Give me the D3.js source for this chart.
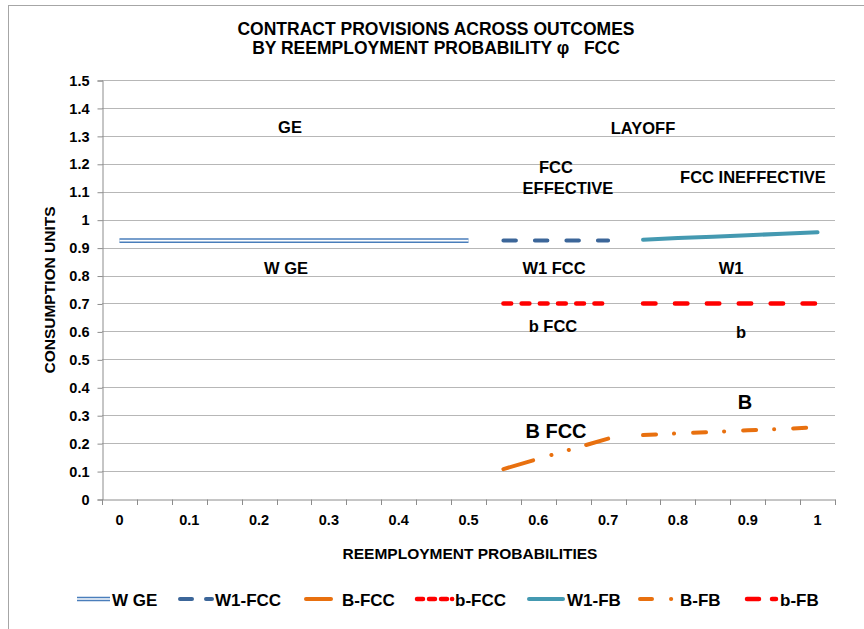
<!DOCTYPE html>
<html>
<head>
<meta charset="utf-8">
<title>Contract provisions across outcomes</title>
<script src="https://cdn.jsdelivr.net/npm/d3@7"></script>
<style>
  body { margin: 0; background: #fff; }
  text { font-family: "Liberation Sans", Arial, sans-serif; font-weight: bold; fill: #000; }
</style>
</head>
<body>
<script>
// categories on the x axis (reemployment probabilities)
var categories = [0, 0.05, 0.1, 0.15, 0.2, 0.25, 0.3, 0.35, 0.4, 0.45, 0.5,
                  0.55, 0.6, 0.65, 0.7, 0.75, 0.8, 0.85, 0.9, 0.95, 1];
var xTickLabels = ["0", "0.1", "0.2", "0.3", "0.4", "0.5", "0.6", "0.7", "0.8", "0.9", "1"];
var yTicks = [0, 0.1, 0.2, 0.3, 0.4, 0.5, 0.6, 0.7, 0.8, 0.9, 1, 1.1, 1.2, 1.3, 1.4, 1.5];

// x positions of each series
var xGE  = [0, 0.05, 0.1, 0.15, 0.2, 0.25, 0.3, 0.35, 0.4, 0.45, 0.5];
var xFCC = [0.55, 0.6, 0.65, 0.7];
var xFB  = [0.75, 0.8, 0.85, 0.9, 0.95, 1];

// series values
var wGE   = [0.925, 0.925, 0.925, 0.925, 0.925, 0.925, 0.925, 0.925, 0.925, 0.925, 0.925];
var w1FCC = [0.925, 0.925, 0.925, 0.925];
var bigBFCC = [0.107, 0.144, 0.180, 0.216];
var smallBFCC = [0.70, 0.70, 0.70, 0.70];
var w1FB  = [0.928, 0.934, 0.939, 0.944, 0.950, 0.955];
var bigBFB = [0.229, 0.235, 0.240, 0.246, 0.251, 0.257];
var smallBFB = [0.70, 0.70, 0.70, 0.70, 0.70, 0.70];

var W = 864, H = 629;
var plot = {left: 102, right: 835, top: 80, bottom: 499};
var font = "'Liberation Sans', Arial, sans-serif";

var svg = d3.select("body").append("svg")
    .attr("width", W).attr("height", H);

// chart border
svg.append("rect")
    .attr("x", 8.5).attr("y", 5.5)
    .attr("width", 900).attr("height", 700)
    .attr("fill", "none").attr("stroke", "#a6a6a6");

var xScale = d3.scaleBand()
    .domain(categories.map(String))
    .range([plot.left, plot.right]);
var cx = function(c) { return xScale(String(c)) + xScale.bandwidth() / 2; };

var yScale = d3.scaleLinear()
    .domain([0, 1.5])
    .range([plot.bottom, plot.top]);

// gridlines
svg.append("g").selectAll("line")
    .data(yTicks.filter(function(d) { return d > 0; }))
    .enter().append("line")
    .attr("x1", plot.left).attr("x2", plot.right)
    .attr("y1", function(d) { return Math.round(yScale(d)) + 0.5; })
    .attr("y2", function(d) { return Math.round(yScale(d)) + 0.5; })
    .attr("stroke", "#b7b7b7");

// y axis
var yAxis = d3.axisLeft(yScale)
    .tickValues(yTicks)
    .tickSize(5)
    .tickPadding(8)
    .tickFormat(d3.format("~g"));
var gy = svg.append("g")
    .attr("transform", "translate(" + (plot.left + 0.5) + ",0.5)")
    .call(yAxis);
gy.selectAll("path, line").attr("stroke", "#8c8c8c");
gy.selectAll("text").style("font-size", "14.5px").style("font-weight", "bold")
    .style("font-family", font);

// x axis: labels every other category
var xAxis = d3.axisBottom(xScale)
    .tickValues(categories.filter(function(d, i) { return i % 2 === 0; }).map(String))
    .tickSize(0)
    .tickPadding(15)
    .tickFormat(function(d, i) { return xTickLabels[i]; });
var gx = svg.append("g")
    .attr("transform", "translate(0," + (plot.bottom + 0.5) + ")")
    .call(xAxis);
gx.select(".domain").attr("stroke", "#8c8c8c");
gx.selectAll("text").style("font-size", "14.5px").style("font-weight", "bold")
    .style("font-family", font);

// x tick marks at category boundaries
var bounds = categories.map(function(c) { return xScale(String(c)); }).concat([plot.right]);
svg.append("g").selectAll("line")
    .data(bounds)
    .enter().append("line")
    .attr("x1", function(d) { return Math.round(d) + 0.5; })
    .attr("x2", function(d) { return Math.round(d) + 0.5; })
    .attr("y1", plot.bottom + 0.5).attr("y2", plot.bottom + 6)
    .attr("stroke", "#8c8c8c");

// series
var line = d3.line()
    .x(function(d) { return cx(d[0]); })
    .y(function(d) { return yScale(d[1]); });

function drawSeries(xs, vals, style) {
  var pts = d3.zip(xs, vals);
  var p = svg.append("path")
      .attr("d", line(pts))
      .attr("fill", "none")
      .attr("stroke", style.color)
      .attr("stroke-width", style.width)
      .attr("stroke-linecap", style.inner ? "butt" : "round");
  if (style.dash) p.attr("stroke-dasharray", style.dash);
  if (style.inner) {
    svg.append("path")
        .attr("d", line(pts))
        .attr("fill", "none")
        .attr("stroke", "#fff")
        .attr("stroke-width", style.inner);
  }
}

var sWGE   = {color: "#4a7ebb", width: 4.6, inner: 1.6};
var sW1FCC = {color: "#3c6699", width: 4, dash: "12.5,19"};
var sBFCC  = {color: "#e8700f", width: 4, dash: "31,19,0.1,18,0.1,18"};
var sbFCC  = {color: "#ff0000", width: 4.5, dash: "7.8,10.4"};
var sW1FB  = {color: "#4499b1", width: 4};
var sBFB   = {color: "#e8700f", width: 4, dash: "13,18,0.1,19"};
var sbFB   = {color: "#ff0000", width: 4.5, dash: "12.5,19.4"};

drawSeries(xGE, wGE, sWGE);
drawSeries(xFCC, w1FCC, sW1FCC);
drawSeries(xFCC, smallBFCC, sbFCC);
drawSeries(xFCC, bigBFCC, sBFCC);
drawSeries(xFB, w1FB, sW1FB);
drawSeries(xFB, smallBFB, sbFB);
drawSeries(xFB, bigBFB, sBFB);

// titles
svg.append("text").attr("x", 436).attr("y", 35).attr("text-anchor", "middle")
    .style("font-size", "17.5px").text("CONTRACT PROVISIONS ACROSS OUTCOMES");
svg.append("text").attr("x", 436).attr("y", 54).attr("text-anchor", "middle")
    .style("font-size", "17.5px").attr("xml:space", "preserve")
    .text("BY REEMPLOYMENT PROBABILITY \u03c6   FCC");
svg.append("text")
    .attr("transform", "translate(55,290) rotate(-90)")
    .attr("text-anchor", "middle").style("font-size", "15.5px")
    .text("CONSUMPTION UNITS");
svg.append("text").attr("x", 470).attr("y", 559).attr("text-anchor", "middle")
    .style("font-size", "15.5px").text("REEMPLOYMENT PROBABILITIES");

// annotations
var notes = [
  {t: "GE", x: 290, y: 133, s: 16.5},
  {t: "LAYOFF", x: 643, y: 134, s: 16.5},
  {t: "FCC", x: 556, y: 173, s: 16.5},
  {t: "EFFECTIVE", x: 568, y: 194, s: 16.5},
  {t: "FCC INEFFECTIVE", x: 753, y: 183, s: 16.5},
  {t: "W GE", x: 286, y: 274, s: 16.5},
  {t: "W1 FCC", x: 554, y: 274, s: 16.5},
  {t: "W1", x: 731, y: 274, s: 16.5},
  {t: "b FCC", x: 553, y: 332, s: 16.5},
  {t: "b", x: 741, y: 338, s: 16.5},
  {t: "B FCC", x: 556, y: 438, s: 20},
  {t: "B", x: 745, y: 409, s: 20}
];
svg.append("g").selectAll("text")
    .data(notes)
    .enter().append("text")
    .attr("x", function(d) { return d.x; })
    .attr("y", function(d) { return d.y; })
    .attr("text-anchor", "middle")
    .style("font-size", function(d) { return d.s + "px"; })
    .text(function(d) { return d.t; });

// legend (sample segments are drawn relative to each item's origin)
var legendItems = [
  {name: "W GE",   x: 77,  tx: 35, style: sWGE,   seg: [[0, 33]]},
  {name: "W1-FCC", x: 178, tx: 37, style: sW1FCC, seg: [[2, 14], [28, 34]]},
  {name: "B-FCC",  x: 304, tx: 38, style: sBFCC,  seg: [[2, 27]]},
  {name: "b-FCC",  x: 415, tx: 40, style: sbFCC,  seg: [[2, 8], [14, 20], [26, 32], [37, 37.2]]},
  {name: "W1-FB",  x: 527, tx: 40, style: sW1FB,  seg: [[2, 36]]},
  {name: "B-FB",   x: 638, tx: 42, style: sBFB,   seg: [[2, 14], [33, 33.2]]},
  {name: "b-FB",   x: 745, tx: 35, style: sbFB,   seg: [[2, 14], [27, 31]]}
];
var ly = 599;
var lg = svg.append("g").selectAll("g")
    .data(legendItems)
    .enter().append("g")
    .attr("transform", function(d) { return "translate(" + d.x + "," + ly + ")"; });
lg.append("path")
    .attr("d", function(d) {
      return d.seg.map(function(s) { return "M" + s[0] + ",0H" + s[1]; }).join("");
    })
    .attr("fill", "none")
    .attr("stroke", function(d) { return d.style.color; })
    .attr("stroke-width", function(d) { return d.style.width; })
    .attr("stroke-linecap", function(d) { return d.style.inner ? "butt" : "round"; });
lg.filter(function(d) { return d.style.inner; }).append("path")
    .attr("d", function(d) { return "M0,0H" + d.seg[0][1]; })
    .attr("stroke", "#fff")
    .attr("stroke-width", function(d) { return d.style.inner; });
lg.append("text")
    .attr("x", function(d) { return d.tx; })
    .attr("y", 6.5)
    .style("font-size", "17px")
    .text(function(d) { return d.name; });
</script>
</body>
</html>
